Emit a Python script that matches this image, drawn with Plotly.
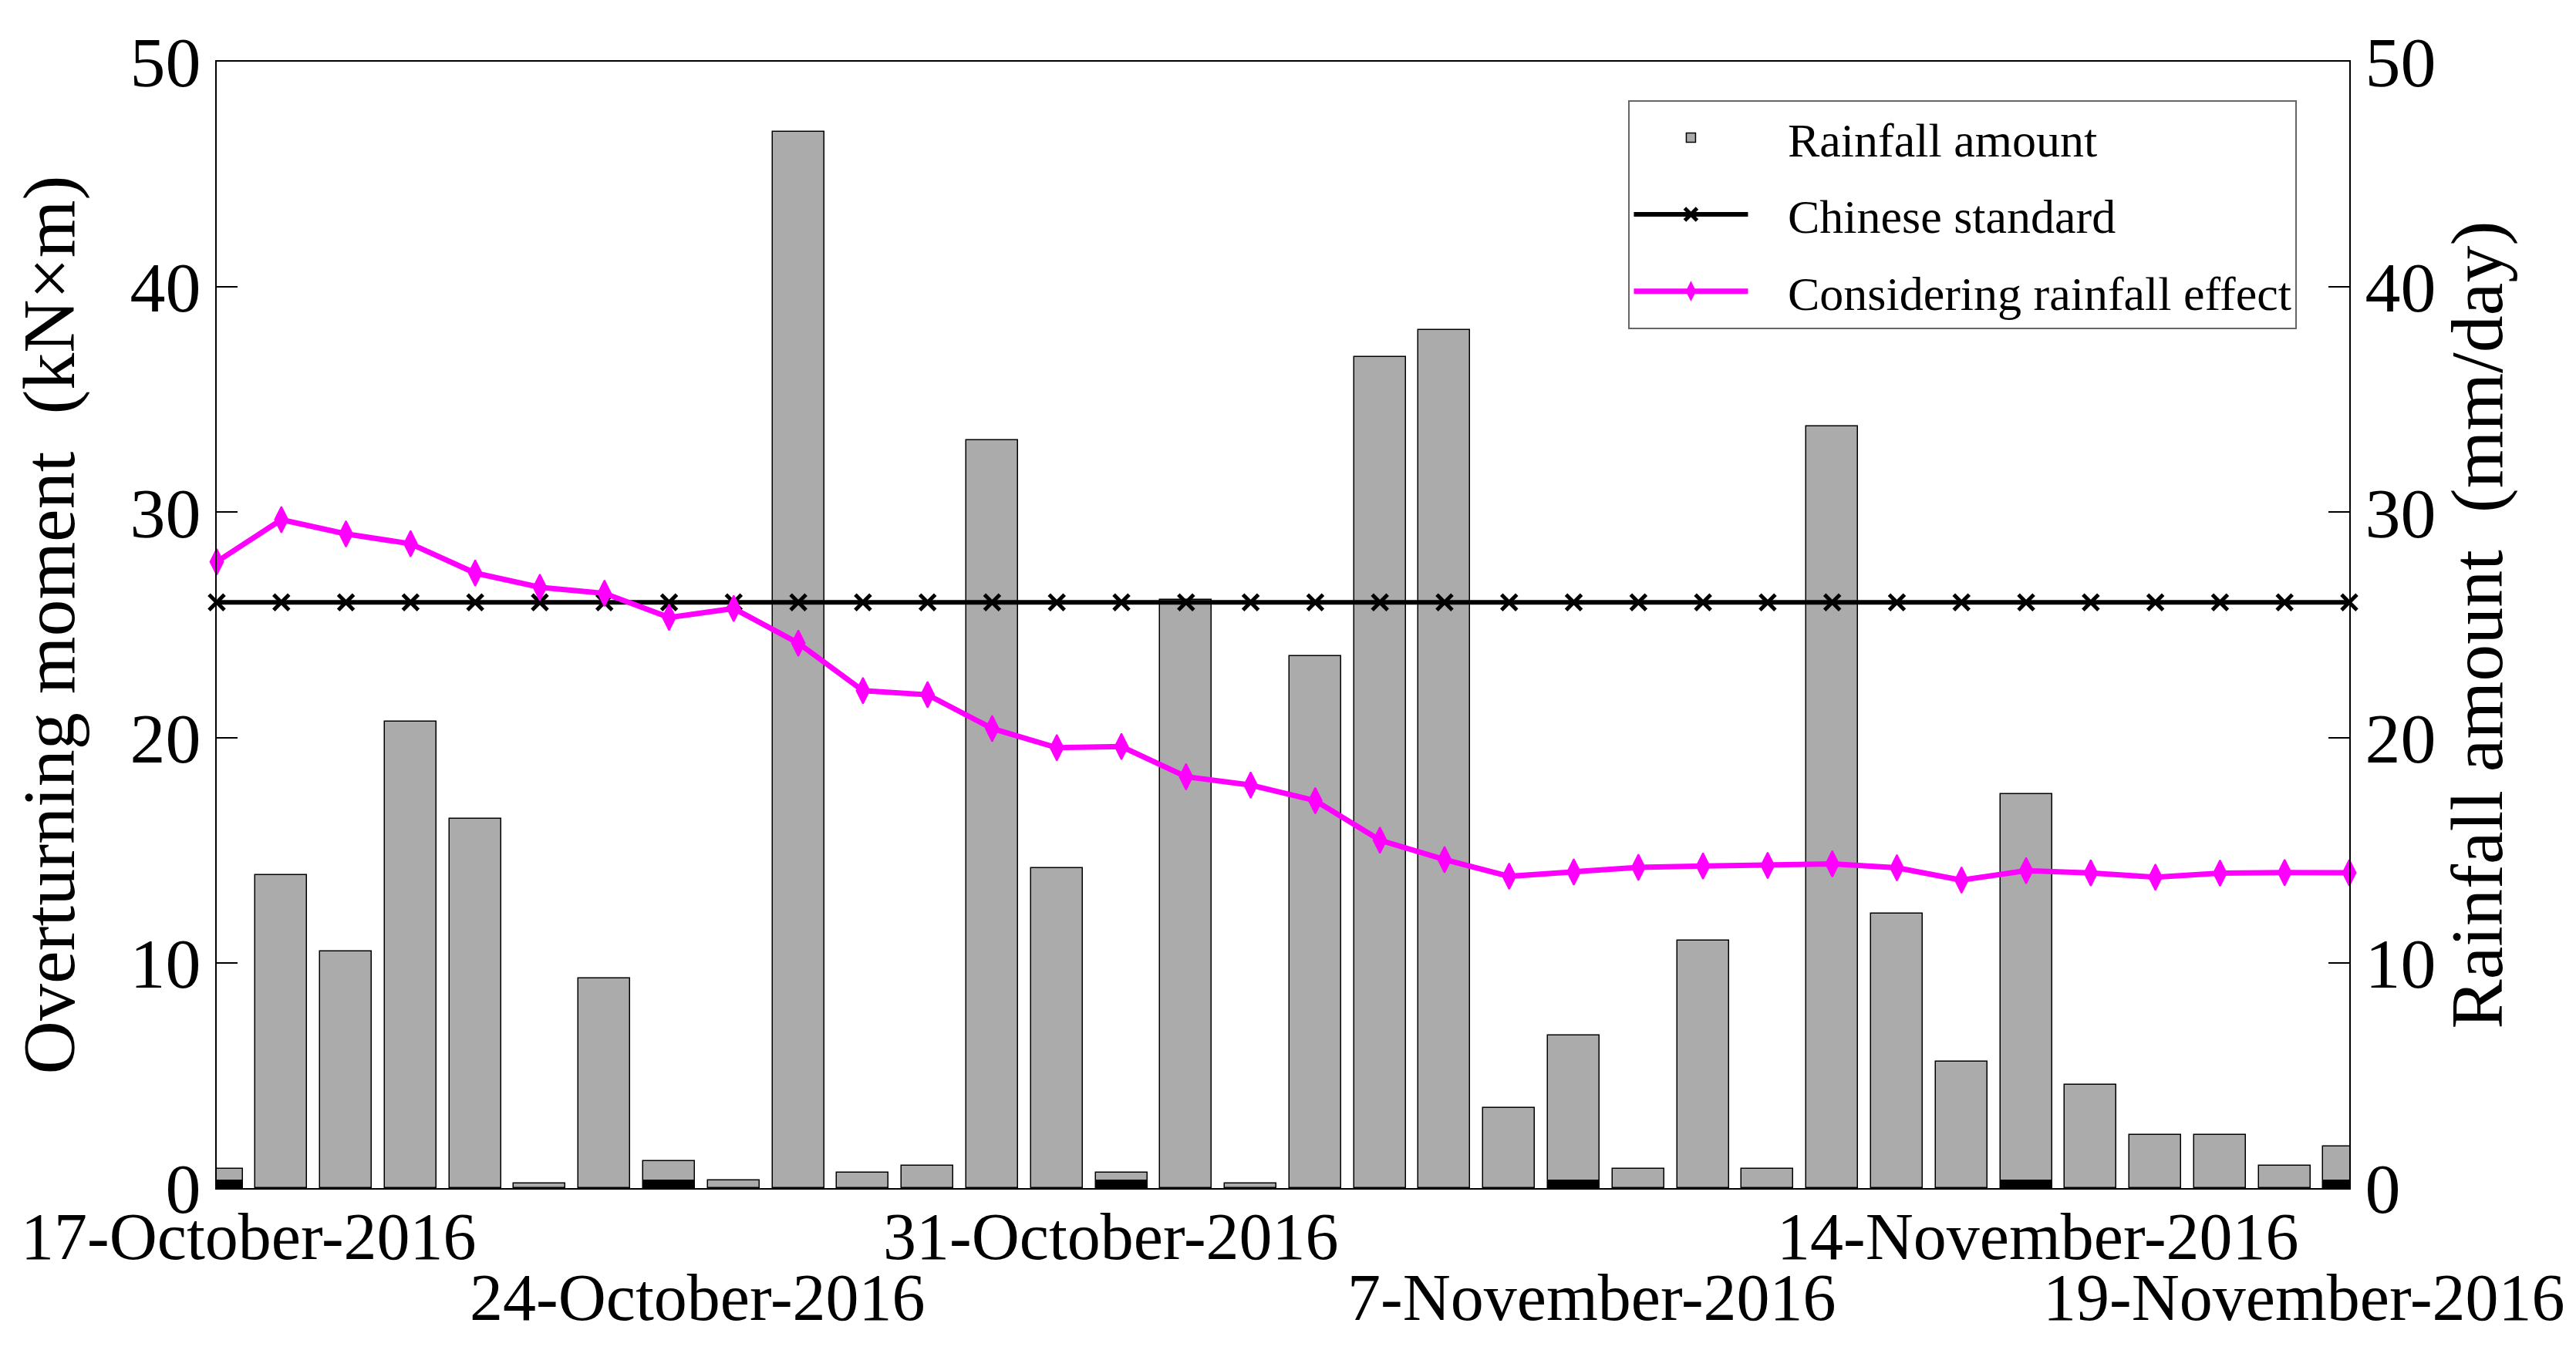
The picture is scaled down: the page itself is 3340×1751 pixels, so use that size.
import pandas as pd
import plotly.graph_objects as go

# ---------------- data ----------------
dates = pd.date_range("2016-10-17", "2016-11-19", freq="D")

rainfall = [0.84, 13.9, 10.5, 20.7, 16.4, 0.2, 9.3, 1.2, 0.34, 46.9,
            0.67, 1.0, 33.2, 14.2, 0.67, 26.1, 0.2, 23.6, 36.9, 38.1,
            3.55, 6.76, 0.84, 11.0, 0.84, 33.8, 12.2, 5.6, 17.5, 4.6,
            2.36, 2.36, 1.0, 1.85]

chinese_standard = [26.0] * 34

rain_effect = [27.8, 29.67, 29.04, 28.6, 27.3, 26.67, 26.4, 25.33, 25.73, 24.19,
               22.08, 21.9, 20.4, 19.55, 19.6, 18.26, 17.89, 17.2, 15.44, 14.58,
               13.84, 14.03, 14.24, 14.3, 14.32, 14.39, 14.22, 13.67, 14.09, 13.99,
               13.8, 13.98, 14.01, 14.0]

# small black marks at the weekly label dates
mark_dates = ["2016-10-17", "2016-10-24", "2016-10-31", "2016-11-07", "2016-11-14", "2016-11-19"]
mark_height = [0.34] * 6

label_dates = ["2016-10-17", "2016-10-24", "2016-10-31", "2016-11-07", "2016-11-14", "2016-11-19"]
label_texts = ["17-October-2016", "24-October-2016", "31-October-2016",
               "7-November-2016", "14-November-2016", "19-November-2016"]
label_rows = [0, 1, 0, 1, 0, 1]
label_xshift = [41, 37, -14, 23, 15, -59]

# ---------------- figure ----------------
FONT = "Liberation Serif"
DAY_MS = 86400000
BAR_W = 0.8 * DAY_MS
PAD = "\u00a0\u00a0\u00a0"

fig = go.Figure()

fig.add_trace(go.Bar(
    x=dates, y=rainfall, width=BAR_W, name=PAD + "Rainfall amount",
    marker=dict(color="#ABABAB", line=dict(color="black", width=1.5)),
    yaxis="y", legendgroup="g1",
))
fig.add_trace(go.Bar(
    x=pd.to_datetime(mark_dates), y=mark_height, width=BAR_W, showlegend=False,
    marker=dict(color="black", line=dict(color="black", width=1)),
    yaxis="y", hoverinfo="skip",
))
fig.add_trace(go.Scatter(
    x=dates, y=chinese_standard, name=PAD + "Chinese standard", mode="lines+markers",
    line=dict(color="black", width=6),
    marker=dict(symbol="x-thin", size=20, line=dict(color="black", width=5), color="black"),
    yaxis="y2", legendgroup="g2", cliponaxis=False,
))
fig.add_trace(go.Scatter(
    x=dates, y=rain_effect, name=PAD + "Considering rainfall effect", mode="lines+markers",
    line=dict(color="#FF00FF", width=7),
    marker=dict(symbol="diamond-tall", size=24, color="#FF00FF",
                line=dict(color="#FF00FF", width=2)),
    yaxis="y2", legendgroup="g3", cliponaxis=False,
))

annotations = []
for d, t, r, xs in zip(label_dates, label_texts, label_rows, label_xshift):
    annotations.append(dict(
        x=d, xref="x", y=0, yref="paper", text=t, showarrow=False,
        xanchor="center", yanchor="middle", xshift=xs,
        yshift=-63 if r == 0 else -142,
        font=dict(family=FONT, size=86, color="black"),
    ))

axis_common = dict(
    range=[0, 50], tickvals=[0, 10, 20, 30, 40, 50], ticks="inside", ticklen=27,
    tickwidth=2, tickcolor="black", showline=True, linecolor="black", linewidth=2,
    showgrid=False, zeroline=False,
    tickfont=dict(family=FONT, size=92, color="black"),
)

fig.update_layout(
    width=3340, height=1751,
    margin=dict(l=273, r=302, t=72, b=218, autoexpand=False),
    paper_bgcolor="white", plot_bgcolor="white",
    barmode="overlay", bargap=0,
    font=dict(family=FONT, color="black"),
    xaxis=dict(
        type="date", range=["2016-10-17", "2016-11-19"], showticklabels=False,
        ticks="", showline=True, mirror=True, linecolor="black", linewidth=2,
        showgrid=False, zeroline=False,
    ),
    yaxis=dict(
        side="right",
        title=dict(text="Rainfall amount\u00a0\u00a0(mm/day)", standoff=0,
                   font=dict(family=FONT, size=96, color="black")),
        **axis_common,
    ),
    yaxis2=dict(
        side="left", overlaying="y",
        title=dict(text="Overturning moment\u00a0\u00a0(kN\u00d7m)", standoff=40,
                   font=dict(family=FONT, size=96, color="black")),
        **axis_common,
    ),
    legend=dict(
        x=0.662, y=0.966, xanchor="left", yanchor="top",
        bgcolor="white", bordercolor="#666666", borderwidth=2,
        font=dict(family=FONT, size=62, color="black"),
        itemwidth=148, tracegroupgap=16, traceorder="grouped",
    ),
    annotations=annotations,
)

fig.write_html("out.html")
